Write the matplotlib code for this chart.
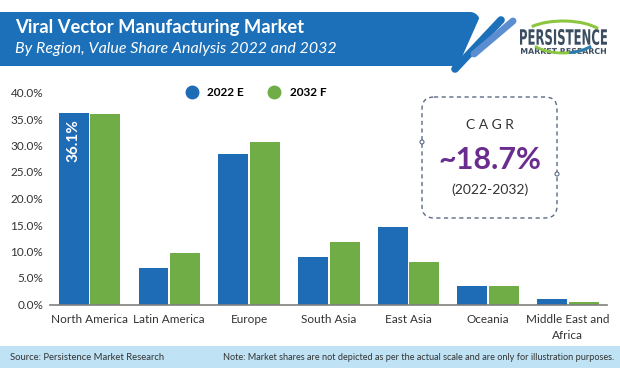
import numpy as np
import matplotlib
matplotlib.use("Agg")
import matplotlib.pyplot as plt
from matplotlib.patches import FancyBboxPatch, Polygon, Rectangle, Arc, Circle, PathPatch
from matplotlib.lines import Line2D
from matplotlib.textpath import TextPath
from matplotlib.font_manager import FontProperties
from matplotlib.transforms import Affine2D

# data
regions = ["North America", "Latin America", "Europe", "South Asia",
           "East Asia", "Oceania", "Middle East and\nAfrica"]
share_2022 = [36.1, 6.9, 28.4, 8.9, 14.6, 3.5, 1.1]
share_2032 = [36.0, 9.7, 30.6, 11.7, 8.0, 3.4, 0.4]
series_names = ["2022 E", "2032 F"]
y_ticks = [0, 5, 10, 15, 20, 25, 30, 35, 40]
highlight = "36.1%"

title = "Viral Vector Manufacturing Market"
subtitle = "By Region, Value Share Analysis 2022 and 2032"
cagr_value = "~18.7%"
cagr_period = "(2022-2032)"
source = "Source: Persistence Market Research"
note = "Note: Market shares are not depicted as per the actual scale and are only for illustration purposes."

BLUE = "#1f6cb6"
GREEN = "#70ad47"
BANNER = "#1b70b9"
PURPLE = "#6a2d8f"
TXT = "#333333"

plt.rcParams["font.family"] = ["Lato", "DejaVu Sans"]

W, H = 620, 368
fig = plt.figure(figsize=(W / 100, H / 100), dpi=100)

# main chart
ax = fig.add_axes([50 / W, 1 - 304.5 / H, 557 / W, 212 / H])
x = np.arange(len(regions))
bw = 0.376
off = 0.198
ax.bar(x - off, share_2022, width=bw, color=BLUE, zorder=2)
ax.bar(x + off, share_2032, width=bw, color=GREEN, zorder=2)
ax.set_xlim(-0.496, 6.49)
ax.set_ylim(0, 40)
ax.set_yticks(y_ticks)
ax.set_yticklabels([f"{t:.1f}%" for t in y_ticks], fontsize=8.5, color=TXT)
ax.set_xticks(x)
ax.set_xticklabels(regions, fontsize=8.5, color=TXT, linespacing=1.5)
ax.tick_params(axis="both", length=0)
ax.tick_params(axis="y", pad=5)
ax.tick_params(axis="x", pad=7)
for s in ["top", "right", "left"]:
    ax.spines[s].set_visible(False)
ax.spines["bottom"].set_color("#808080")
ax.spines["bottom"].set_linewidth(1.2)
ax.patch.set_alpha(0)

ax.text(x[0] - off, share_2022[0] - 1.2, highlight, rotation=90, ha="center", va="top",
        color="white", fontsize=11, fontweight="bold")

# legend
handles = [Line2D([], [], marker="o", ls="", markersize=9, color=c) for c in (BLUE, GREEN)]
fig.legend(handles, series_names, loc="center", bbox_to_anchor=(253 / W, 1 - 93 / H),
           ncol=2, frameon=False, prop={"weight": "bold", "size": 8.5},
           handletextpad=0.3, columnspacing=1.6, borderpad=0)

# decoration layer in pixel coordinates
deco = fig.add_axes([0, 0, 1, 1], zorder=5)
deco.set_xlim(0, W)
deco.set_ylim(H, 0)
deco.axis("off")
deco.patch.set_alpha(0)

# header banner
t = np.linspace(-np.pi / 2, -np.pi / 8, 8)
corner = [(470 + 10 * np.cos(a), 22 + 10 * np.sin(a)) for a in t]
banner = [(0, 12)] + corner + [(458, 66), (0, 66)]
deco.add_patch(Polygon(banner, closed=True, color=BANNER, lw=0))
deco.plot([501, 455], [20, 69], color=BANNER, lw=5.5, solid_capstyle="round")
deco.plot([513, 474], [21, 54], color="#5b8ed0", lw=5, solid_capstyle="round")
deco.text(15, 28, title, color="white", fontsize=13.2, fontweight="bold", va="center")
deco.text(15, 49, subtitle, color="white", fontsize=11.5, style="italic", va="center")

# logo
def squeezed_text(s, x0, y0, w, h, weight, color):
    tp = TextPath((0, 0), s, size=10, prop=FontProperties(family="DejaVu Sans", weight=weight))
    bb = tp.get_extents()
    tr = (Affine2D().translate(-bb.x0, -bb.y0)
          .scale(w / bb.width, -h / bb.height).translate(x0, y0))
    deco.add_patch(PathPatch(tr.transform_path(tp), color=color, lw=0))

squeezed_text("PERSISTENCE", 520, 45, 87, 16, "bold", "#3b4d61")
squeezed_text("MARKET RESEARCH", 521, 54, 85, 6, "bold", "#3b4d61")
deco.add_patch(Arc((563, 38), 84, 34, theta1=200, theta2=345, color="#8cc63f", lw=2.2))
deco.add_patch(Arc((563, 36), 70, 34, theta1=20, theta2=160, color="#8cc63f", lw=2.0))
deco.add_patch(Arc((563, 36), 70, 34, theta1=20, theta2=70, color="#2a7ab8", lw=2.0))

# CAGR callout
box = FancyBboxPatch((422, 97), 135, 121, boxstyle="round,pad=0,rounding_size=12",
                     fill=False, ec="#5b6b85", lw=1, ls=(0, (3, 2.5)))
deco.add_patch(box)
for cx, cy in [(422, 142), (557, 174)]:
    deco.add_patch(Circle((cx, cy), 2, fc="white", ec="#5b6b85", lw=0.8, zorder=6))
deco.text(489.5, 125, "C A G R", ha="center", va="center", fontsize=10, color=TXT)
deco.text(489.5, 160, cagr_value, ha="center", va="center", fontsize=22,
          fontweight="bold", color=PURPLE)
deco.text(489.5, 190, cagr_period, ha="center", va="center", fontsize=10, color=TXT)

# footer
deco.add_patch(Rectangle((0, 346), W, 22, color="#bfe3f5", lw=0))
deco.text(10, 357, source, fontsize=6.8, color=TXT, va="center")
deco.text(614, 357, note, fontsize=6.6, color=TXT, va="center", ha="right")

fig.savefig("out.png", dpi=100)
